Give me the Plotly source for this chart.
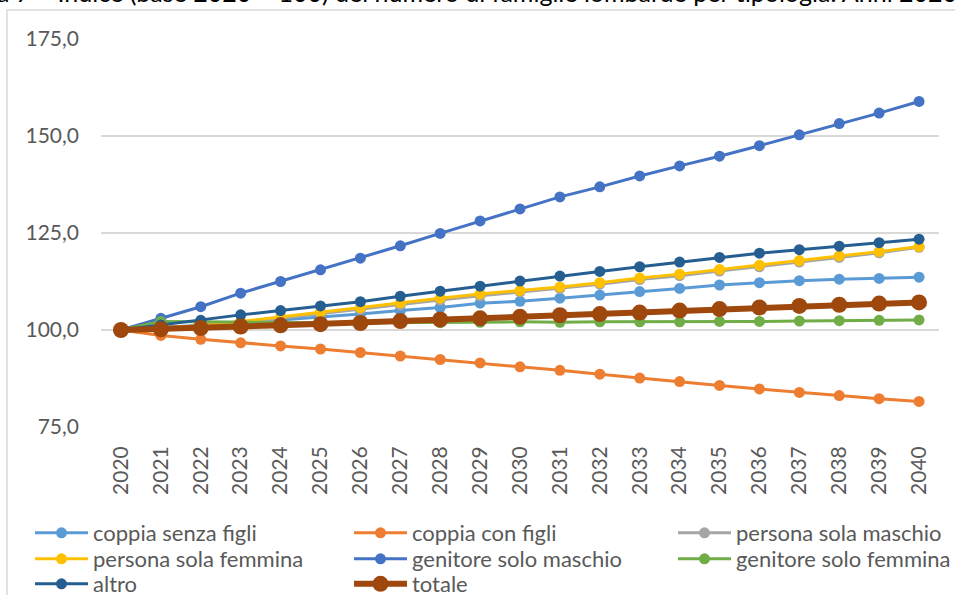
import plotly.graph_objects as go

# ---------------- data ----------------
years = [str(y) for y in range(2020, 2041)]

coppia_senza_figli = [100.0, 100.6, 101.2, 101.9, 102.6, 103.3, 104.1, 105.0, 105.8, 106.9, 107.4,
                      108.2, 109.0, 109.9, 110.7, 111.6, 112.2, 112.7, 113.1, 113.3, 113.6]
coppia_con_figli = [100.0, 98.6, 97.6, 96.7, 95.9, 95.1, 94.2, 93.3, 92.4, 91.5, 90.5,
                    89.6, 88.6, 87.6, 86.7, 85.7, 84.8, 83.9, 83.1, 82.3, 81.6]
persona_sola_maschio = [100.0, 100.3, 100.8, 101.8, 103.0, 104.2, 105.3, 106.5, 107.7, 108.8, 109.8,
                        110.7, 111.8, 113.0, 114.0, 115.2, 116.3, 117.5, 118.7, 119.9, 121.3]
persona_sola_femmina = [100.0, 100.5, 101.1, 102.2, 103.4, 104.7, 105.8, 107.0, 108.2, 109.3, 110.2,
                        111.1, 112.2, 113.4, 114.4, 115.6, 116.7, 117.9, 119.1, 120.2, 121.5]
genitore_solo_maschio = [100.0, 103.0, 106.0, 109.5, 112.5, 115.5, 118.5, 121.7, 124.9, 128.1, 131.2,
                         134.3, 136.9, 139.7, 142.3, 144.8, 147.5, 150.3, 153.2, 155.9, 158.9]
genitore_solo_femmina = [100.0, 102.2, 102.1, 102.0, 102.0, 101.9, 101.9, 101.9, 101.9, 102.0, 102.1,
                         102.0, 102.1, 102.1, 102.1, 102.2, 102.2, 102.3, 102.4, 102.5, 102.6]
altro = [100.0, 101.3, 102.5, 103.9, 105.0, 106.2, 107.3, 108.7, 110.0, 111.3, 112.6,
         113.9, 115.1, 116.3, 117.5, 118.7, 119.8, 120.7, 121.6, 122.5, 123.4]
totale = [100.0, 100.2, 100.5, 100.9, 101.2, 101.5, 101.8, 102.3, 102.7, 103.0, 103.4,
          103.8, 104.1, 104.5, 105.0, 105.4, 105.8, 106.2, 106.5, 106.8, 107.1]

series_names = ["coppia senza figli", "coppia con figli", "persona sola maschio",
                "persona sola femmina", "genitore solo maschio", "genitore solo femmina",
                "altro", "totale"]
series_values = [coppia_senza_figli, coppia_con_figli, persona_sola_maschio,
                 persona_sola_femmina, genitore_solo_maschio, genitore_solo_femmina,
                 altro, totale]
y_ticks = [75, 100, 125, 150, 175]
title_text = ("Figura 7 \u2013 Indice (base 2020 = 100) del numero di famiglie lombarde "
              "per tipologia. Anni 2020-2040")

# ---------------- style ----------------
colors = ["#5B9BD5", "#ED7D31", "#A5A5A5", "#FFC000", "#4472C4", "#70AD47", "#255E91", "#9E480E"]
W, H = 955, 595
L, R, T, B = 101, 16, 39, 168
PW, PH = W - L - R, H - T - B
FONT = "Lato"
GREY_TXT = "#595959"

def px_x(px):
    return (px - L) / PW

def px_y(py):
    return (H - B - py) / PH

# legend layout: (column left px, row center px)
col_x = [30, 349, 673]
row_y = [533, 559, 584]
legend_pos = [(0, 0), (1, 0), (2, 0), (0, 1), (1, 1), (2, 1), (0, 2), (1, 2)]

fig = go.Figure()
layout_legends = {}
for i, (name, vals) in enumerate(zip(series_names, series_values)):
    is_tot = name == "totale"
    lg = "legend" if i == 0 else f"legend{i+1}"
    fig.add_trace(go.Scatter(
        x=years, y=vals, name=name, mode="lines+markers",
        line=dict(color=colors[i], width=6 if is_tot else 3),
        marker=dict(color=colors[i], size=16 if is_tot else 11, line=dict(width=0)),
        legend=lg,
    ))
    c, r = legend_pos[i]
    layout_legends[lg] = dict(
        x=px_x(col_x[c]), y=px_y(row_y[r] - 21), xanchor="left", yanchor="top",
        orientation="v", bgcolor="rgba(0,0,0,0)", borderwidth=0,
        font=dict(family=FONT, size=22, color=GREY_TXT), itemwidth=53,
    )

fig.update_layout(
    width=W, height=H,
    margin=dict(l=L, r=R, t=T, b=B, autoexpand=False),
    paper_bgcolor="white", plot_bgcolor="white",
    separators=",.",
    font=dict(family=FONT, size=21, color=GREY_TXT),
    showlegend=True,
    xaxis=dict(type="category", range=[-0.5, 20.5], showgrid=False, showline=False,
               zeroline=False, tickangle=-90, ticks="", ticklabelstandoff=14,
               tickfont=dict(family=FONT, size=21, color=GREY_TXT)),
    yaxis=dict(range=[75, 175], tickvals=y_ticks, tickformat=".1f", showgrid=True,
               gridcolor="#D9D9D9", gridwidth=1.5, showline=False, zeroline=False,
               ticks="", ticklabelstandoff=21,
               tickfont=dict(family=FONT, size=21, color=GREY_TXT)),
    shapes=[dict(type="rect", xref="paper", yref="paper",
                 x0=px_x(7), x1=px_x(1000), y0=px_y(700), y1=px_y(10),
                 line=dict(color="#D9D9D9", width=1.5), fillcolor="rgba(0,0,0,0)",
                 layer="below")],
    annotations=[dict(text=title_text, xref="paper", yref="paper",
                      x=px_x(-61), y=px_y(-8), xanchor="left", yanchor="middle",
                      showarrow=False, font=dict(family=FONT, size=25, color="#000000"))],
    **layout_legends,
)

fig.write_html("out.html", config={"displayModeBar": False},
               post_script="document.body.style.margin='0';document.body.style.overflow='hidden';")
